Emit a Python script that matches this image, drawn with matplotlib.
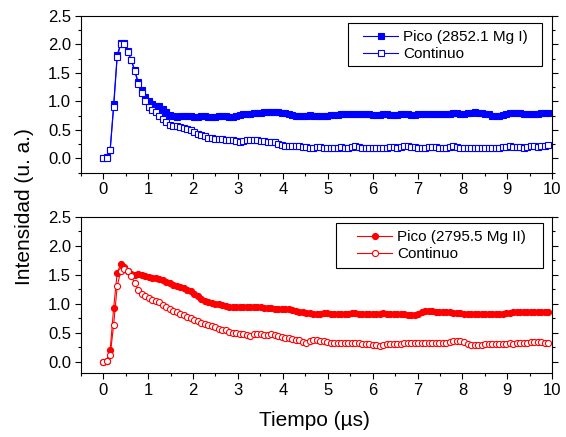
import numpy as np
import matplotlib
matplotlib.use("Agg")
import matplotlib.pyplot as plt
from matplotlib.patches import Rectangle
from matplotlib.ticker import MultipleLocator, FormatStrFormatter

plt.rcParams['font.family'] = ['Liberation Sans', 'DejaVu Sans']

# sampling step of the time base (us)
dt = 0.078

# Mg I line (2852.1) and continuum
mg1_pico = [0.00, 0.02, 0.15, 0.95, 1.81, 2.02, 2.02, 1.88, 1.73, 1.55,
            1.34, 1.19, 1.07, 1.00, 0.95, 0.92, 0.91, 0.87, 0.81, 0.76,
            0.74, 0.73, 0.74, 0.74, 0.75, 0.74, 0.73, 0.73, 0.74, 0.74,
            0.73, 0.72, 0.73, 0.74, 0.74, 0.74, 0.73, 0.73, 0.74, 0.76,
            0.77, 0.77, 0.78, 0.79, 0.80, 0.80, 0.81, 0.82, 0.82, 0.82,
            0.81, 0.80, 0.79, 0.77, 0.76, 0.75, 0.75, 0.75, 0.75, 0.76,
            0.75, 0.75, 0.74, 0.74, 0.75, 0.76, 0.76, 0.76, 0.77, 0.77,
            0.77, 0.77, 0.77, 0.78, 0.78, 0.77, 0.77, 0.76, 0.76, 0.76,
            0.77, 0.77, 0.76, 0.76, 0.76, 0.77, 0.77, 0.77, 0.76, 0.76,
            0.77, 0.77, 0.77, 0.78, 0.78, 0.78, 0.77, 0.77, 0.78, 0.78,
            0.79, 0.79, 0.78, 0.78, 0.79, 0.80, 0.81, 0.80, 0.79, 0.78,
            0.77, 0.75, 0.74, 0.74, 0.76, 0.78, 0.79, 0.80, 0.79, 0.79,
            0.78, 0.78, 0.78, 0.78, 0.78, 0.79, 0.79, 0.79]
mg1_cont = [0.00, 0.00, 0.15, 0.90, 1.77, 2.00, 2.00, 1.87, 1.72, 1.53,
            1.31, 1.15, 1.00, 0.90, 0.85, 0.81, 0.75, 0.69, 0.63, 0.59,
            0.575, 0.565, 0.55, 0.54, 0.52, 0.49, 0.46, 0.43, 0.41, 0.385,
            0.365, 0.35, 0.34, 0.335, 0.335, 0.33, 0.32, 0.32, 0.30, 0.29,
            0.31, 0.32, 0.32, 0.33, 0.33, 0.31, 0.30, 0.29, 0.29, 0.28,
            0.26, 0.24, 0.22, 0.21, 0.21, 0.22, 0.22, 0.20, 0.20, 0.19,
            0.19, 0.20, 0.20, 0.19, 0.18, 0.18, 0.19, 0.19, 0.20, 0.19,
            0.19, 0.20, 0.21, 0.20, 0.19, 0.19, 0.19, 0.19, 0.18, 0.19,
            0.19, 0.19, 0.20, 0.20, 0.19, 0.20, 0.21, 0.21, 0.20, 0.20,
            0.19, 0.19, 0.19, 0.20, 0.20, 0.20, 0.19, 0.18, 0.19, 0.20,
            0.21, 0.20, 0.19, 0.18, 0.19, 0.18, 0.18, 0.19, 0.19, 0.18,
            0.18, 0.18, 0.18, 0.19, 0.20, 0.20, 0.21, 0.20, 0.20, 0.20,
            0.19, 0.20, 0.21, 0.21, 0.20, 0.21, 0.22, 0.24]

# Mg II line (2795.5) and continuum
mg2_pico = [0.00, 0.02, 0.20, 0.93, 1.53, 1.68, 1.63, 1.57, 1.52, 1.50,
            1.51, 1.49, 1.47, 1.46, 1.45, 1.44, 1.42, 1.40, 1.37, 1.35,
            1.33, 1.31, 1.29, 1.27, 1.24, 1.21, 1.17, 1.13, 1.08, 1.05,
            1.03, 1.01, 1.00, 0.99, 0.97, 0.96, 0.95, 0.94, 0.94, 0.94,
            0.94, 0.94, 0.94, 0.94, 0.94, 0.94, 0.93, 0.93, 0.92, 0.91,
            0.91, 0.90, 0.90, 0.90, 0.89, 0.88, 0.86, 0.85, 0.84, 0.84,
            0.83, 0.83, 0.83, 0.84, 0.84, 0.83, 0.83, 0.83, 0.82, 0.83,
            0.83, 0.84, 0.84, 0.83, 0.83, 0.83, 0.82, 0.82, 0.83, 0.83,
            0.84, 0.83, 0.83, 0.83, 0.82, 0.82, 0.82, 0.81, 0.80, 0.80,
            0.83, 0.86, 0.87, 0.87, 0.87, 0.86, 0.86, 0.85, 0.85, 0.85,
            0.84, 0.84, 0.84, 0.83, 0.83, 0.83, 0.83, 0.83, 0.83, 0.83,
            0.83, 0.83, 0.83, 0.83, 0.83, 0.84, 0.84, 0.85, 0.85, 0.85,
            0.85, 0.85, 0.85, 0.85, 0.86, 0.85, 0.85, 0.85]
mg2_cont = [0.00, 0.01, 0.11, 0.64, 1.30, 1.56, 1.60, 1.57, 1.48, 1.35,
            1.24, 1.17, 1.13, 1.10, 1.07, 1.05, 1.03, 0.98, 0.94, 0.91,
            0.88, 0.85, 0.82, 0.80, 0.77, 0.75, 0.72, 0.70, 0.67, 0.65,
            0.63, 0.61, 0.59, 0.57, 0.55, 0.54, 0.52, 0.50, 0.49, 0.48,
            0.48, 0.46, 0.45, 0.47, 0.48, 0.47, 0.46, 0.46, 0.47, 0.46,
            0.44, 0.42, 0.41, 0.40, 0.39, 0.38, 0.37, 0.34, 0.33, 0.36,
            0.37, 0.37, 0.36, 0.35, 0.34, 0.33, 0.33, 0.32, 0.32, 0.32,
            0.32, 0.33, 0.32, 0.32, 0.31, 0.31, 0.30, 0.29, 0.28, 0.27,
            0.29, 0.30, 0.31, 0.31, 0.31, 0.31, 0.32, 0.32, 0.32, 0.32,
            0.32, 0.33, 0.33, 0.33, 0.32, 0.32, 0.33, 0.33, 0.33, 0.34,
            0.35, 0.35, 0.36, 0.34, 0.31, 0.29, 0.28, 0.29, 0.29, 0.30,
            0.30, 0.30, 0.30, 0.31, 0.31, 0.31, 0.32, 0.31, 0.32, 0.32,
            0.33, 0.33, 0.34, 0.34, 0.34, 0.34, 0.33, 0.32]

labels_top = ['Pico (2852.1 Mg I)', 'Continuo']
labels_bot = ['Pico (2795.5 Mg II)', 'Continuo']

t = np.arange(len(mg1_pico)) * dt

fig = plt.figure(figsize=(5.66, 4.37), dpi=100)
ax1 = fig.add_axes([0.1426, 0.6048, 0.8332, 0.3593])
ax2 = fig.add_axes([0.1426, 0.1458, 0.8332, 0.3584])


def style_axis(ax, ymin):
    ax.set_xlim(-0.5, 10)
    ax.set_ylim(ymin, 2.5)
    ax.xaxis.set_major_locator(MultipleLocator(1))
    ax.xaxis.set_minor_locator(MultipleLocator(0.5))
    ax.yaxis.set_major_locator(MultipleLocator(0.5))
    ax.yaxis.set_minor_locator(MultipleLocator(0.25))
    ax.yaxis.set_major_formatter(FormatStrFormatter('%.1f'))
    ax.tick_params(which='both', direction='out', right=True, top=False,
                   width=0.8, labelsize=12, pad=3)
    ax.tick_params(which='major', length=4)
    ax.tick_params(which='minor', length=2.5)
    for s in ax.spines.values():
        s.set_linewidth(0.8)


def add_legend(ax, anchor, box):
    # legend text without frame, square frame drawn separately
    ax.legend(loc='upper left', bbox_to_anchor=anchor, borderaxespad=0,
              borderpad=0, fontsize=11, numpoints=1, handlelength=2.3,
              handletextpad=0.3, labelspacing=0.2, frameon=False)
    x0, y0, x1, y1 = box
    ax.add_patch(Rectangle((x0, y0), x1 - x0, y1 - y0, transform=ax.transAxes,
                           fill=False, ec='black', lw=0.8, zorder=5))


# top: Mg I, blue squares
ax1.plot(t, mg1_pico, '-s', color='#0000ff', lw=0.8, ms=4.0, mew=0.8,
         label=labels_top[0])
ax1.plot(t, mg1_cont, '-s', color='#0000ff', lw=0.8, ms=4.0, mew=0.8,
         mfc='white', label=labels_top[1])
style_axis(ax1, -0.25)
add_legend(ax1, (0.5992, 0.909), (0.566, 0.6815, 0.979, 0.9516))

# bottom: Mg II, red circles
ax2.plot(t, mg2_pico, '-o', color='#ff0000', lw=0.8, ms=4.4, mew=0.8,
         label=labels_bot[0])
ax2.plot(t, mg2_cont, '-o', color='#ff0000', lw=0.8, ms=4.4, mew=0.8,
         mfc='white', label=labels_bot[1])
style_axis(ax2, -0.2)
add_legend(ax2, (0.5865, 0.915), (0.5414, 0.6705, 0.9798, 0.958))

fig.text(25 / 566, 1 - 207 / 437, 'Intensidad (u. a.)', rotation=90,
         ha='center', va='center', fontsize=15)
fig.text(314 / 566, 1 - 420 / 437, 'Tiempo (\u00b5s)', ha='center',
         va='center', fontsize=15)

fig.savefig('out.png', dpi=100)
